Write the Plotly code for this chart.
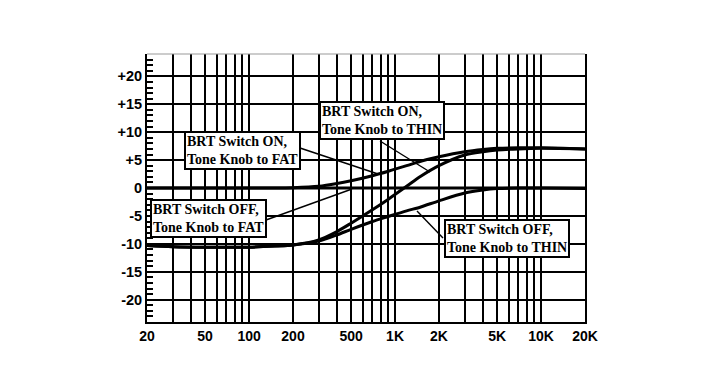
import plotly.graph_objects as go

# ---- data ----
freq_hz = [20, 30, 50, 100, 150, 200, 300, 400, 500, 700, 900, 1200, 1500,
           2000, 3000, 4000, 5000, 7000, 10000, 20000]
brt_on_fat = [0, 0, 0, 0, 0, 0.05, 0.3, 0.8, 1.3, 2.2, 3.0, 4.0, 4.8,
              5.6, 6.5, 6.9, 7.1, 7.2, 7.2, 7.0]
brt_on_thin = [-10.3, -10.5, -10.6, -10.6, -10.4, -10.2, -9.3, -7.8, -6.3, -3.9, -2.0, 0.3, 2.1,
               4.0, 5.9, 6.5, 6.8, 7.0, 7.1, 7.0]
brt_off_thin = [-10.3, -10.5, -10.6, -10.6, -10.4, -10.2, -9.5, -8.4, -7.4, -6.0, -5.1, -4.1, -3.4,
                -2.3, -0.9, -0.35, -0.1, 0.0, 0.0, -0.1]
brt_off_fat = [0] * len(freq_hz)

x_grid_vals = [20, 30, 40, 50, 60, 70, 80, 90, 100, 200, 300, 400, 500, 600, 700, 800, 900,
               1000, 2000, 3000, 4000, 5000, 6000, 7000, 8000, 9000, 10000, 20000]
x_labels = {20: "20", 50: "50", 100: "100", 200: "200", 500: "500", 1000: "1K",
            2000: "2K", 5000: "5K", 10000: "10K", 20000: "20K"}
y_tick_vals = [20, 15, 10, 5, 0, -5, -10, -15, -20]
y_tick_text = ["+20", "+15", "+10", "+5", "0", "-5", "-10", "-15", "-20"]

labels = [
    ("BRT Switch ON,<br>Tone Knob to FAT", 184, 131),
    ("BRT Switch ON,<br>Tone Knob to THIN", 319, 101),
    ("BRT Switch OFF,<br>Tone Knob to FAT", 150, 199),
    ("BRT Switch OFF,<br>Tone Knob to THIN", 444, 219),
]
pointers = [  # (tail px, tip px) in reference page pixels
    ((300, 148), (378, 174)),
    ((380, 141), (430, 172)),
    ((266, 220), (352, 189)),
    ((443, 238), (417, 211)),
]

# ---- figure ----
OFF = 8  # page body margin
L, R, T, B = 147, 585, 54, 322
W, H = 712 - 2 * OFF, 390 - 2 * OFF

fig = go.Figure()
for ys in (brt_off_fat, brt_on_fat, brt_on_thin, brt_off_thin):
    fig.add_trace(go.Scatter(x=freq_hz, y=ys, mode="lines",
                             line=dict(color="black", width=3, shape="spline", smoothing=0.8),
                             showlegend=False, hoverinfo="skip"))

def px_to_paper(px, py):
    return (px - L) / (R - L), (B - py) / (B - T)

shapes = []
for (t, h) in pointers:
    x0, y0 = px_to_paper(*t)
    x1, y1 = px_to_paper(*h)
    shapes.append(dict(type="line", xref="paper", yref="paper", x0=x0, y0=y0, x1=x1, y1=y1,
                       line=dict(color="black", width=1.4), layer="above"))
shapes.append(dict(type="line", xref="paper", yref="paper", x0=0, y0=1, x1=1, y1=1,
                   line=dict(color="#999999", width=1), layer="above"))

annotations = []
for text, px, py in labels:
    xp, yp = px_to_paper(px, py)
    annotations.append(dict(text=f"<b>{text.replace('<br>', '</b><br><b>')}</b>",
                            xref="paper", yref="paper", x=xp, y=yp,
                            xanchor="left", yanchor="top", showarrow=False, align="left",
                            font=dict(family="Liberation Serif", size=14, color="black"),
                            bgcolor="white", bordercolor="black", borderwidth=2, borderpad=1))

fig.update_layout(
    width=W, height=H,
    margin=dict(l=L - OFF, r=W - (R - OFF), t=T - OFF, b=H - (B - OFF), pad=0),
    paper_bgcolor="white", plot_bgcolor="white",
    shapes=shapes, annotations=annotations,
    font=dict(family="Liberation Sans", color="black"),
)
fig.update_xaxes(
    type="log", range=[1.30103, 4.30103], automargin=False, tickangle=0,
    tickvals=x_grid_vals, ticktext=[f"<b>{x_labels.get(v, '')}</b>" for v in x_grid_vals],
    tickfont=dict(size=14, family="Liberation Sans", color="black"),
    showgrid=True, gridcolor="black", gridwidth=1.8,
    showline=True, linecolor="black", linewidth=2, mirror=False,
    ticks="", zeroline=False,
)
fig.update_yaxes(
    range=[-24, 24], automargin=False,
    tickvals=y_tick_vals, ticktext=[f"<b>{t}</b>" for t in y_tick_text],
    tickfont=dict(size=14.5, family="Liberation Sans", color="black"),
    showgrid=True, gridcolor="black", gridwidth=1.8,
    showline=True, linecolor="black", linewidth=2, mirror=True,
    ticks="inside", ticklen=6, tickwidth=1.5, tickcolor="black",
    minor=dict(dtick=1, tick0=0, ticks="inside", ticklen=6, tickwidth=1.5, tickcolor="black", showgrid=False),
    zeroline=False,
)

fig.write_html("out.html")
